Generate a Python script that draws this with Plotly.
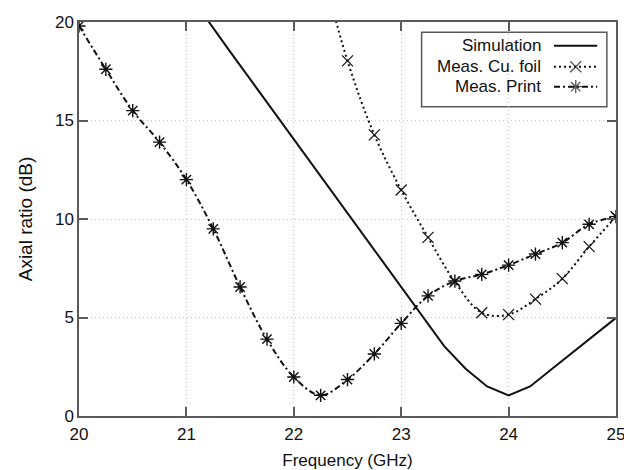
import plotly.graph_objects as go

# ---------------- data ----------------
sim_freq = [21.0, 21.2, 21.4, 21.6, 21.8, 22.0, 22.2, 22.4, 22.6, 22.8, 23.0,
            23.2, 23.4, 23.6, 23.8, 24.0, 24.2, 24.4, 24.6, 24.8, 25.0]
sim_ar = [21.6, 20.05, 18.55, 17.05, 15.55, 14.05, 12.55, 11.05, 9.55, 8.05, 6.55,
          5.05, 3.55, 2.4, 1.5, 1.05, 1.5, 2.37, 3.24, 4.11, 4.98]

cu_freq = [22.25, 22.5, 22.75, 23.0, 23.25, 23.5, 23.75, 24.0, 24.25, 24.5, 24.75, 25.0]
cu_ar = [23.0, 18.03, 14.27, 11.47, 9.07, 6.81, 5.24, 5.15, 5.93, 6.97, 8.6, 10.12]

pr_freq = [20.0, 20.25, 20.5, 20.75, 21.0, 21.25, 21.5, 21.75, 22.0, 22.25, 22.5,
           22.75, 23.0, 23.25, 23.5, 23.75, 24.0, 24.25, 24.5, 24.75, 25.0]
pr_ar = [19.8, 17.6, 15.5, 13.9, 12.0, 9.5, 6.55, 3.9, 1.98, 1.05, 1.85,
         3.15, 4.7, 6.1, 6.85, 7.19, 7.66, 8.22, 8.8, 9.73, 10.12]

series_names = ["Simulation", "Meas. Cu. foil", "Meas. Print"]

x_ticks = [20, 21, 22, 23, 24, 25]
y_ticks = [0, 5, 10, 15, 20]

FONT = "Liberation Sans, Arial, sans-serif"
FS = 17
INK = "#111111"
AX = "#5a5a5a"
CU_DASH = "2px,3px"
PRINT_DASH = "6px,3px,2px,3px"

styles = [
    dict(dash="solid", symbol=None),
    dict(dash=CU_DASH, symbol="x-thin-open"),
    dict(dash=PRINT_DASH, symbol="asterisk-open"),
]

fig = go.Figure()

fig.add_trace(go.Scatter(x=sim_freq, y=sim_ar, mode="lines", name=series_names[0],
                         line=dict(color=INK, width=2, dash="solid"), showlegend=False))
fig.add_trace(go.Scatter(x=cu_freq, y=cu_ar, mode="lines+markers", name=series_names[1],
                         line=dict(color=INK, width=2, dash=CU_DASH, shape="spline"),
                         marker=dict(symbol="x-thin-open", size=11,
                                     line=dict(color=INK, width=1.2)),
                         showlegend=False))
fig.add_trace(go.Scatter(x=pr_freq, y=pr_ar, mode="lines+markers", name=series_names[2],
                         line=dict(color=INK, width=2, dash=PRINT_DASH, shape="spline"),
                         marker=dict(symbol="asterisk-open", size=11,
                                     line=dict(color=INK, width=1.4)),
                         showlegend=False))

# ---------------- custom legend (symbols to the right of text) ----------------
leg_x0, leg_x1 = 0.638, 0.983
leg_y0, leg_y1 = 0.785, 0.974
row_y = [0.9398, 0.8866, 0.8358]
text_right = 0.864
samp_x = [0.8845, 0.925, 0.965]

fig.add_shape(type="rect", xref="paper", yref="paper",
              x0=leg_x0, x1=leg_x1, y0=leg_y0, y1=leg_y1,
              line=dict(color=AX, width=1.5), fillcolor="white", layer="between")

for name, st, ry in zip(series_names, styles, row_y):
    fig.add_annotation(x=text_right, y=ry, xref="paper", yref="paper",
                       text=name, showarrow=False, xanchor="right", yanchor="middle",
                       font=dict(family=FONT, size=FS, color=INK))
    fig.add_trace(go.Scatter(
        x=samp_x, y=[ry] * 3, xaxis="x2", yaxis="y2",
        mode="lines+markers" if st["symbol"] else "lines",
        line=dict(color=INK, width=2, dash=st["dash"]),
        marker=dict(symbol=st["symbol"] or "circle", size=[0, 11, 0],
                    line=dict(color=INK, width=1.3)),
        showlegend=False, hoverinfo="skip", cliponaxis=False))

axis_common = dict(
    showline=True, linecolor=AX, linewidth=1.5, mirror="allticks",
    ticks="inside", ticklen=9, tickcolor=AX, tickwidth=1.5,
    showgrid=True, gridcolor="#c4c4c4", griddash="1px,3px", gridwidth=1,
    zeroline=False, automargin=False, ticklabeloverflow="allow",
    tickfont=dict(family=FONT, size=FS, color=INK),
)

fig.update_layout(
    width=624, height=470,
    margin=dict(l=79, r=8, t=22, b=54),
    paper_bgcolor="white", plot_bgcolor="white",
    font=dict(family=FONT, size=FS, color=INK),
    xaxis=dict(range=[20, 25], tickvals=x_ticks, **axis_common,
               ticklabelstandoff=2,
               title=dict(text="Frequency (GHz)", font=dict(family=FONT, size=FS, color=INK),
                          standoff=12)),
    yaxis=dict(range=[0, 20], tickvals=y_ticks, **axis_common,
               title=dict(text="Axial ratio (dB)", font=dict(family=FONT, size=19, color=INK),
                          standoff=17)),
    xaxis2=dict(overlaying="x", range=[0, 1], visible=False, fixedrange=True),
    yaxis2=dict(overlaying="y", range=[0, 1], visible=False, fixedrange=True),
)

fig.write_html("out.html")
